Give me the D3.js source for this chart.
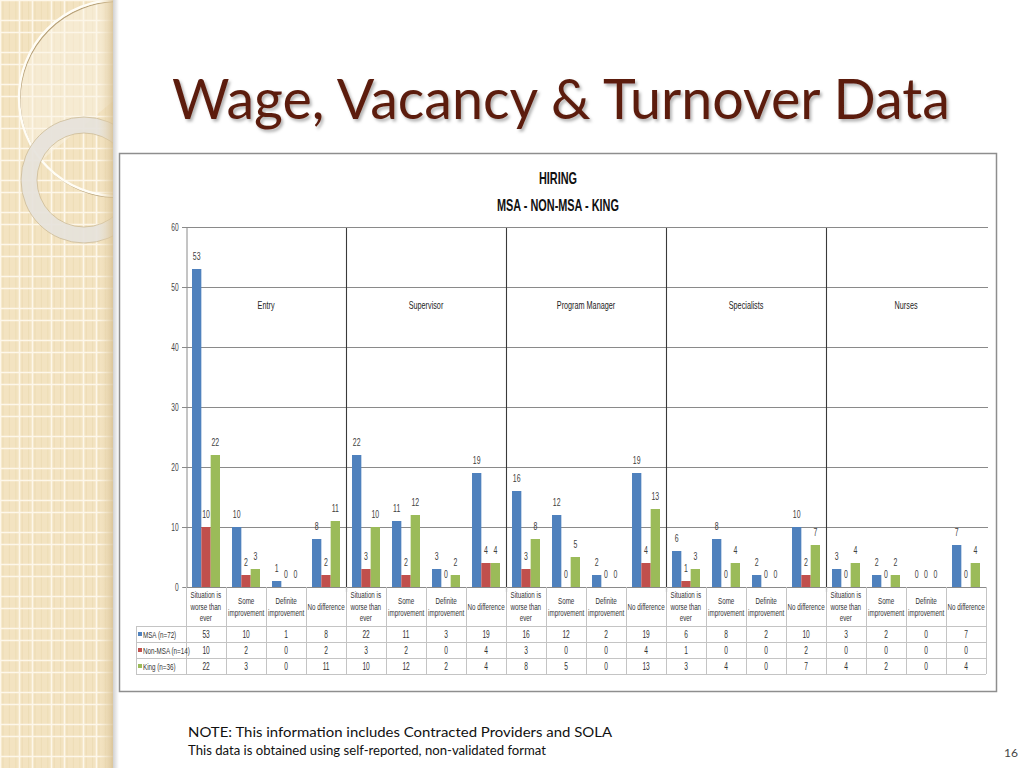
<!DOCTYPE html>
<html>
<head>
<meta charset="utf-8">
<script src="https://cdn.jsdelivr.net/npm/d3@7"></script>
<style>
  html, body { margin: 0; padding: 0; background: #fff; }
  svg { display: block; }
  /* the chart picture is squeezed sideways in the slide */
  .sq { transform-box: fill-box; transform: scaleX(0.66); }
  .sq-m { transform-origin: 50% 50%; }
  .sq-s { transform-origin: 0% 50%; }
  .sq-e { transform-origin: 100% 50%; }
</style>
</head>
<body>
<svg id="slide" width="1024" height="768"></svg>
<script>
// hiring answers per job group, 4 answers each
const groups = ['Entry', 'Supervisor', 'Program Manager', 'Specialists', 'Nurses'];
const responses = [
  ['Situation is', 'worse than', 'ever'],
  ['Some', 'improvement'],
  ['Definite', 'improvement'],
  ['No difference']
];
const seriesNames = ['MSA (n=72)', 'Non-MSA (n=14)', 'King (n=36)'];
const seriesColors = ['#4f81bd', '#c0504d', '#9bbb59'];
const msa = [53, 10, 1, 8, 22, 11, 3, 19, 16, 12, 2, 19, 6, 8, 2, 10, 3, 2, 0, 7];
const nonMsa = [10, 2, 0, 2, 3, 2, 0, 4, 3, 0, 0, 4, 1, 0, 0, 2, 0, 0, 0, 0];
const king = [22, 3, 0, 11, 10, 12, 2, 4, 8, 5, 0, 13, 3, 4, 0, 7, 4, 2, 0, 4];
const yTicks = [0, 10, 20, 30, 40, 50, 60];

const series = [msa, nonMsa, king];
const cats = [];
groups.forEach((g, gi) => {
  responses.forEach((r, ri) => {
    cats.push({ idx: gi * responses.length + ri, group: g, lines: r });
  });
});

const narrow = "'Liberation Sans', Arial, sans-serif";
const gill = "Lato, 'Open Sans', sans-serif";

const svg = d3.select('#slide');
const defs = svg.append('defs');

// ---- left decorative panel ----
defs.append('clipPath').attr('id', 'panelClip')
  .append('rect').attr('x', 0).attr('y', 0).attr('width', 113).attr('height', 768);

const edge = defs.append('linearGradient').attr('id', 'edgeShade');
edge.append('stop').attr('offset', '0%').attr('stop-color', '#f3e3c1').attr('stop-opacity', 0);
edge.append('stop').attr('offset', '100%').attr('stop-color', '#d6bf92').attr('stop-opacity', 0.8);

const drop = defs.append('linearGradient').attr('id', 'dropShade');
drop.append('stop').attr('offset', '0%').attr('stop-color', '#000').attr('stop-opacity', 0.18);
drop.append('stop').attr('offset', '100%').attr('stop-color', '#000').attr('stop-opacity', 0);

const panel = svg.append('g').attr('clip-path', 'url(#panelClip)');
panel.append('rect').attr('width', 113).attr('height', 768).attr('fill', '#f3e3c1');

const gridX = d3.range(0, 113, 32).flatMap((v) => [v, v + 19]);
const gridY = d3.range(0, 768, 32).flatMap((v) => [v, v + 20]);
panel.selectAll('.fine-x').data(d3.range(3, 113, 6.4)).join('line')
  .attr('x1', (d) => d).attr('x2', (d) => d).attr('y1', 0).attr('y2', 768)
  .attr('stroke', '#ead6ad').attr('stroke-width', 0.6);
panel.selectAll('.gx').data(gridX).join('line')
  .attr('x1', (d) => d + 0.5).attr('x2', (d) => d + 0.5).attr('y1', 0).attr('y2', 768)
  .attr('stroke', '#fdf7ea').attr('stroke-width', 1.6);
panel.selectAll('.gy').data(gridY).join('line')
  .attr('y1', (d) => d + 0.5).attr('y2', (d) => d + 0.5).attr('x1', 0).attr('x2', 113)
  .attr('stroke', '#fdf7ea').attr('stroke-width', 1.6);

// light wash in the top of the big circle
panel.append('path')
  .attr('d', d3.arc()({ innerRadius: 0, outerRadius: 97, startAngle: -Math.PI * 0.72, endAngle: 0 }))
  .attr('transform', 'translate(117,98)')
  .attr('fill', '#fbf4e6').attr('opacity', 0.45);

panel.append('circle').attr('cx', 117).attr('cy', 98).attr('r', 98)
  .attr('fill', 'none').attr('stroke', '#a88f62').attr('stroke-width', 1.2).attr('opacity', 0.8)
  .attr('transform', 'translate(1,1.5)');
panel.append('circle').attr('cx', 117).attr('cy', 98).attr('r', 98)
  .attr('fill', 'none').attr('stroke', '#fffdf6').attr('stroke-width', 2.4);

const ring = d3.arc()({ innerRadius: 47, outerRadius: 63, startAngle: 0, endAngle: 2 * Math.PI });
panel.append('path').attr('d', ring).attr('transform', 'translate(84,180)')
  .attr('fill', '#e7e3dc').attr('opacity', 0.92)
  .attr('stroke', '#c9b793').attr('stroke-width', 0.8);

panel.append('rect').attr('x', 98).attr('width', 15).attr('height', 768).attr('fill', 'url(#edgeShade)');
svg.append('rect').attr('x', 113).attr('width', 6).attr('height', 768).attr('fill', 'url(#dropShade)');

// ---- slide title ----
const shadow = defs.append('filter').attr('id', 'tshadow')
  .attr('x', '-5%').attr('y', '-20%').attr('width', '110%').attr('height', '150%');
shadow.append('feDropShadow').attr('dx', 2).attr('dy', 2.5).attr('stdDeviation', 1.5)
  .attr('flood-color', '#000').attr('flood-opacity', 0.3);

const title = svg.append('text')
  .attr('x', 172).attr('y', 119)
  .attr('filter', 'url(#tshadow)')
  .style('font-family', gill).style('font-size', '58px')
  .style('fill', '#5b1e10')
  .text('Wage, Vacancy & Turnover Data');
const tw = title.node().getComputedTextLength();
title.style('font-size', `${58 * 778 / tw}px`);

// ---- chart frame ----
svg.append('rect')
  .attr('x', 119.5).attr('y', 153.5).attr('width', 877).attr('height', 538)
  .attr('fill', '#fff').attr('stroke', '#8e8e8e').attr('stroke-width', 1.5);

svg.selectAll('.chart-title').data(['HIRING', 'MSA - NON-MSA - KING']).join('text')
  .attr('class', 'chart-title sq sq-m')
  .attr('x', 558).attr('y', (d, i) => 184 + i * 27)
  .style('text-anchor', 'middle').style('font-family', narrow)
  .style('font-weight', 'bold').style('font-size', '16.5px').style('fill', '#111')
  .text((d) => d);

// ---- scales ----
const x0 = d3.scaleBand().domain(cats.map((c) => c.idx)).range([186, 986])
  .paddingInner(0.3).paddingOuter(0.15);
const x1 = d3.scaleBand().domain(d3.range(series.length)).range([0, x0.bandwidth()]);
const y = d3.scaleLinear().domain([0, 60]).range([587, 227]);
const step = x0.step();
const colStart = (i) => x0(i) - step * 0.15;

const plot = svg.append('g');

// gridlines
plot.selectAll('.grid').data(yTicks.filter((d) => d > 0)).join('line')
  .attr('class', 'grid')
  .attr('x1', 182).attr('x2', 988)
  .attr('y1', (d) => y(d) + 0.5).attr('y2', (d) => y(d) + 0.5)
  .attr('stroke', '#8a8a8a').attr('stroke-width', 1);

// y axis
const yAxis = plot.append('g').attr('transform', 'translate(186.5,0)')
  .call(d3.axisLeft(y).tickValues(yTicks).tickSize(4).tickPadding(4));
yAxis.select('.domain').attr('stroke', '#8a8a8a');
yAxis.selectAll('.tick line').attr('stroke', '#8a8a8a');
yAxis.selectAll('.tick text')
  .classed('sq sq-e', true)
  .style('font-family', narrow).style('font-size', '10px').style('fill', '#444');

// group separators
plot.selectAll('.sep').data([1, 2, 3, 4]).join('line')
  .attr('class', 'sep')
  .attr('x1', (d) => colStart(d * 4) + 0.5).attr('x2', (d) => colStart(d * 4) + 0.5)
  .attr('y1', y(60) + 1).attr('y2', y(0) + 5)
  .attr('stroke', '#3a3a3a').attr('stroke-width', 1.1);

// group names
plot.selectAll('.group-label').data(groups).join('text')
  .attr('class', 'group-label sq sq-m')
  .attr('x', (d, i) => colStart(i * 4) + step * 2)
  .attr('y', y(46.3))
  .style('text-anchor', 'middle').style('font-family', narrow)
  .style('font-size', '11px').style('fill', '#222')
  .text((d) => d);

// bars
const catG = plot.selectAll('.cat').data(cats).join('g')
  .attr('class', 'cat')
  .attr('transform', (d) => `translate(${x0(d.idx)},0)`);

catG.selectAll('rect')
  .data((d) => series.map((s, si) => ({ si, value: s[d.idx] })))
  .join('rect')
  .attr('x', (d) => x1(d.si))
  .attr('width', x1.bandwidth())
  .attr('y', (d) => y(d.value))
  .attr('height', (d) => y(0) - y(d.value))
  .attr('fill', (d) => seriesColors[d.si]);

catG.selectAll('.rect-label')
  .data((d) => series.map((s, si) => ({ si, value: s[d.idx] })))
  .join('text')
  .attr('class', 'rect-label sq sq-m')
  .attr('x', (d) => x1(d.si) + x1.bandwidth() / 2)
  .attr('y', (d) => y(d.value) - 9)
  .style('text-anchor', 'middle').style('font-family', narrow)
  .style('font-size', '10.5px').style('fill', '#404040')
  .text((d) => d.value);

// x axis line
plot.append('line').attr('x1', 186).attr('x2', 986)
  .attr('y1', y(0) + 0.5).attr('y2', y(0) + 0.5)
  .attr('stroke', '#8a8a8a');

// ---- data table ----
const rowTop = 587;
const labelH = 39;
const rowH = 16;
const tableBottom = rowTop + labelH + rowH * 3;
const table = svg.append('g');

table.selectAll('.hline').data(d3.range(4)).join('line')
  .attr('x1', 136).attr('x2', 986)
  .attr('y1', (d) => rowTop + labelH + d * rowH + 0.5)
  .attr('y2', (d) => rowTop + labelH + d * rowH + 0.5)
  .attr('stroke', '#c4c4c4');
table.selectAll('.vline').data(d3.range(21)).join('line')
  .attr('x1', (d) => 186 + d * step + 0.5).attr('x2', (d) => 186 + d * step + 0.5)
  .attr('y1', rowTop).attr('y2', tableBottom)
  .attr('stroke', '#c4c4c4');
table.append('line').attr('x1', 136.5).attr('x2', 136.5)
  .attr('y1', rowTop + labelH).attr('y2', tableBottom).attr('stroke', '#c4c4c4');

// category labels
table.selectAll('.cat-label').data(cats).join('text')
  .attr('class', 'cat-label sq sq-m')
  .style('text-anchor', 'middle').style('font-family', narrow)
  .style('font-size', '9.5px').style('fill', '#333')
  .each(function (d) {
    const n = d.lines.length;
    const cx = colStart(d.idx) + step / 2;
    const cy = rowTop + labelH / 2;
    d3.select(this).selectAll('tspan').data(d.lines).join('tspan')
      .attr('x', cx)
      .attr('y', (l, i) => cy + (i - (n - 1) / 2) * 11.5 + 3.5)
      .text((l) => l);
  });

// legend column and values
const rows = table.selectAll('.row').data(series).join('g')
  .attr('class', 'row')
  .attr('transform', (d, i) => `translate(0,${rowTop + labelH + i * rowH + rowH / 2})`);

rows.append('rect')
  .attr('x', 138).attr('y', -2).attr('width', 4).attr('height', 4)
  .attr('fill', (d, i) => seriesColors[i]);
rows.append('text')
  .attr('class', 'sq sq-s')
  .attr('x', 143).attr('y', 3.5)
  .style('font-family', narrow).style('font-size', '9.5px').style('fill', '#333')
  .text((d, i) => seriesNames[i]);
rows.selectAll('.val').data((d) => d).join('text')
  .attr('class', 'val sq sq-m')
  .attr('x', (d, i) => colStart(i) + step / 2)
  .attr('y', 3.5)
  .style('text-anchor', 'middle').style('font-family', narrow)
  .style('font-size', '10px').style('fill', '#333')
  .text((d) => d);

// ---- notes ----
const note1 = svg.append('text').attr('x', 188).attr('y', 737)
  .style('font-family', gill).style('font-size', '14px').style('fill', '#111')
  .text('NOTE:  This information includes Contracted Providers and SOLA');
note1.attr('textLength', 424).attr('lengthAdjust', 'spacingAndGlyphs');
const note2 = svg.append('text').attr('x', 188).attr('y', 755)
  .style('font-family', gill).style('font-size', '12.5px').style('fill', '#111')
  .text('This data is obtained using self-reported, non-validated format');
note2.attr('textLength', 358).attr('lengthAdjust', 'spacingAndGlyphs');
svg.append('text').attr('x', 1018).attr('y', 757)
  .style('text-anchor', 'end')
  .style('font-family', gill).style('font-size', '12px').style('fill', '#444')
  .text('16');
</script>
</body>
</html>
